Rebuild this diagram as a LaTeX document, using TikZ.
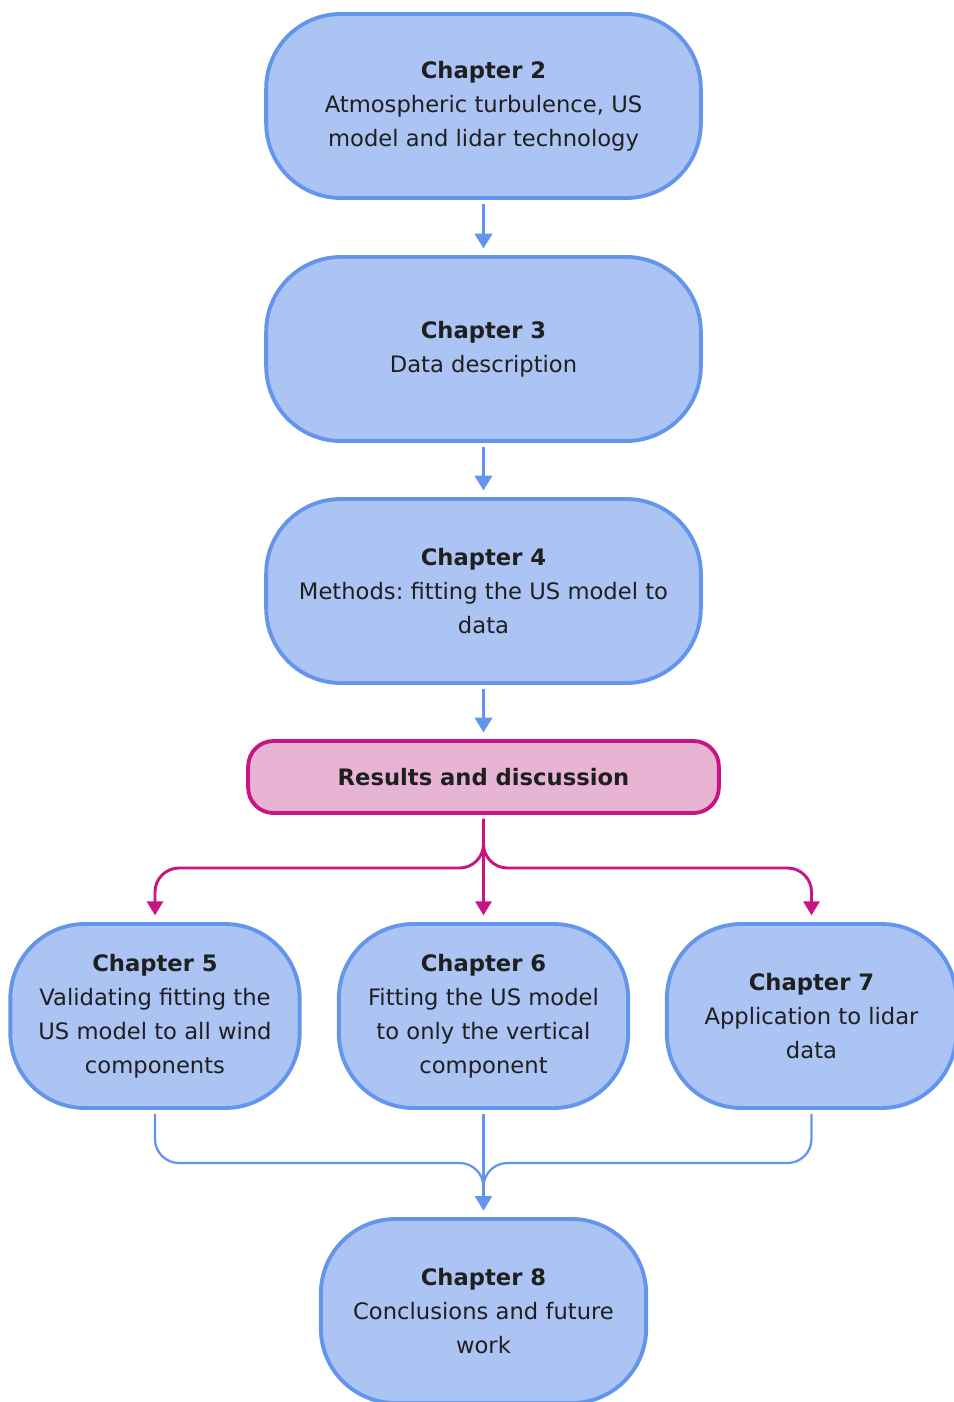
\documentclass[tikz,border=0pt]{standalone}
\usepackage{fontspec}
\setmainfont{DejaVu Sans}
\usetikzlibrary{arrows.meta}
\definecolor{bfill}{HTML}{ABC4F3}
\definecolor{bline}{HTML}{6495ED}
\definecolor{pfill}{HTML}{E8B4D4}
\definecolor{pline}{HTML}{C71585}
\definecolor{txt}{HTML}{1F1F1F}
\frenchspacing
\begin{document}
\begin{tikzpicture}[x=0.75pt,y=-0.75pt,
  chap/.style={draw=bline, fill=bfill, line width=2.9pt, rounded corners=56pt,
    minimum height=138pt, align=center, text=txt, inner sep=0pt,
    font=\fontsize{17}{25.5}\selectfont},
  wide/.style={chap, minimum width=326pt},
  small/.style={chap, minimum width=217pt},
  resbox/.style={draw=pline, fill=pfill, line width=2.9pt, rounded corners=19pt,
    minimum width=353pt, minimum height=54pt, text=txt, inner sep=0pt,
    font=\fontsize{17}{25.5}\selectfont\bfseries},
  barrow/.style={draw=bline, line width=2.2pt, -{Triangle[length=11pt,width=13pt]},
    shorten <=3pt, shorten >=5pt},
  parrow/.style={draw=pline, line width=2.2pt, -{Triangle[length=10.5pt,width=12pt]},
    shorten <=3pt, shorten >=5pt, rounded corners=18pt},
  bjoin/.style={draw=bline, line width=1.7pt, -{Triangle[length=10.5pt,width=12pt]},
    shorten <=3pt, shorten >=5pt, rounded corners=18pt}
]
\useasboundingbox (0,0) rectangle (953,1402);

\node[wide] (c2) at (483.5,106) {\textbf{Chapter 2}\\Atmospheric turbulence, US\\model and lidar technology};
\node[wide] (c3) at (483.5,349) {\textbf{Chapter 3}\\Data description};
\node[wide] (c4) at (483.5,591) {\textbf{Chapter 4}\\Methods: fitting the US model to\\data};
\node[resbox] (res) at (483.5,777) {Results and discussion};
\node[small] (c5) at (155,1016) {\textbf{Chapter 5}\\Validating fitting the\\US model to all wind\\components};
\node[small] (c6) at (483.5,1016) {\textbf{Chapter 6}\\Fitting the US model\\to only the vertical\\component};
\node[small] (c7) at (811.5,1016) {\textbf{Chapter 7}\\Application to lidar\\data};
\node[chap, minimum width=244pt] (c8) at (483.5,1311) {\textbf{Chapter 8}\\Conclusions and future\\work};

\draw[barrow] (c2.south) -- (c3.north);
\draw[barrow] (c3.south) -- (c4.north);
\draw[barrow] (c4.south) -- (res.north);

\coordinate (split) at (483.5,868);
\draw[parrow] (res.south) -- (split) -| (c5.north);
\draw[parrow] (res.south) -- (c6.north);
\draw[parrow] (res.south) -- (split) -| (c7.north);

\coordinate (join) at (483.5,1163);
\draw[bjoin] (c5.south) |- (join) -- (c8.north);
\draw[bjoin] (c6.south) -- (c8.north);
\draw[bjoin] (c7.south) |- (join) -- (c8.north);
\end{tikzpicture}
\end{document}
